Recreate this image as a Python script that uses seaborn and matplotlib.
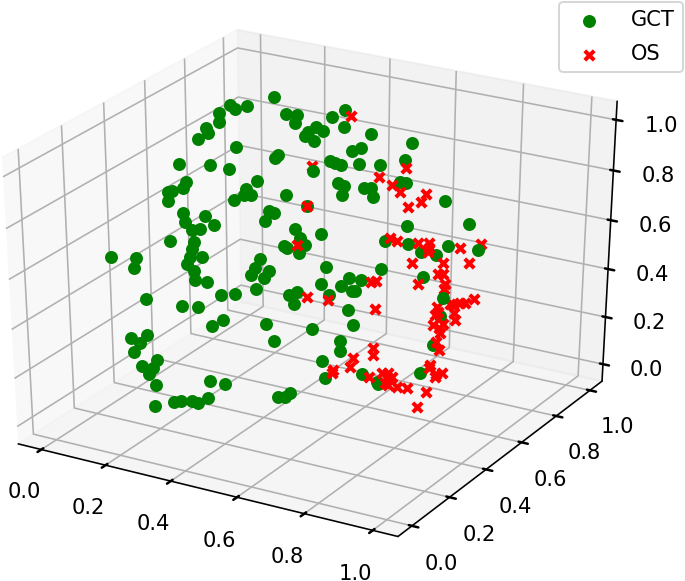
# 3D scatter of GCT and OS samples
import matplotlib
matplotlib.use("Agg")
import matplotlib.pyplot as plt
import seaborn as sns

# GCT samples
gct_x = [0.202,0.298,0.325,0.127,0.142,0.179,0.093,0.153,0.175,0.181,0.150,0.265,0.391,0.382,0.090,0.185,0.243,0.110,0.100,0.327,
         0.066,0.053,0.053,0.293,0.287,0.308,0.256,0.414,0.098,0.166,0.104,0.194,0.125,0.150,0.362,0.377,0.350,0.441,0.056,0.131,
         0.124,0.407,0.416,0.452,0.456,0.063,0.011,0.117,0.154,0.334,0.418,0.379,0.331,0.472,0.388,0.409,0.422,0.413,0.440,0.552,
         0.674,0.579,0.553,0.545,0.560,0.577,0.630,0.691,0.708,0.750,0.767,0.569,
         0.586,0.581,0.645,0.666,0.672,0.880,0.477,0.772,0.950,0.519,0.471,0.708,0.776,0.814,0.858,0.892,0.003,0.107,0.129,0.131,
         0.169,0.318,0.305,0.361,0.345,0.320,0.212,0.255,0.422,0.446,0.437,0.038,0.088,0.139,0.216,0.182,0.350,0.375,0.051,0.038,
         0.015,0.059,0.067,0.019,0.054,0.104,0.125,0.234,0.280,0.288,0.238,0.319,0.244,0.266,0.184,0.482,0.466,0.445,0.534,0.698,
         0.519,0.603,0.639,0.579,0.612,0.621,0.543,0.600,0.616,0.491,0.577,0.577,0.522,0.531,0.644,0.690,0.693,0.818,0.821,0.873,0.855]
gct_y = [0.8,0.7,0.7,0.7,0.7,0.7,0.7,0.6,0.5,0.5,
         0.5,0.5,0.5,0.5,0.5,0.5,0.5,0.5,0.5,0.5,
         0.5,0.5,0.5,0.5,0.5,0.5,0.5,0.5,0.5,0.5,
         0.5,0.5,0.5,0.5,0.5,0.5,0.5,0.5,0.5,0.5,
         0.5,0.5,0.5,0.5,0.5,0.2,0.4,0.5,0.5,0.5,
         0.8,0.8,0.7,0.7,0.7,0.7,0.6,0.6,0.6,0.7,
         0.7,0.6,0.6,0.5,0.5,0.5,0.5,0.5,0.6,0.5,
         0.5,0.5,0.5,0.5,0.5,0.5,0.5,0.5,0.5,0.5,
         0.5,0.5,0.5,0.5,0.5,0.5,0.5,0.5,0.4,0.5,
         0.5,0.5,0.5,0.5,0.5,0.5,0.5,0.5,0.5,0.5,
         0.5,0.5,0.5,0.4,0.5,0.5,0.5,0.5,0.5,0.5,
         0.3,0.4,0.4,0.3,0.4,0.4,0.4,0.3,0.3,0.4,
         0.4,0.3,0.3,0.2,0.2,0.2,0.2,0.4,0.4,0.4,
         0.5,0.5,0.5,0.5,0.5,0.5,0.5,0.5,0.5,0.5,
         0.5,0.5,0.5,0.5,0.5,0.5,0.5,0.5,0.5,0.5,
         0.5,0.5,0.5]
gct_z = [0.989,0.990,0.961,0.982,0.970,0.991,0.941,0.966,0.992,0.974,0.943,0.942,0.943,0.929,0.828,0.850,0.849,0.762,0.735,0.824,
         0.714,0.707,0.670,0.784,0.758,0.764,0.730,0.793,0.634,0.641,0.599,0.612,0.573,0.584,0.715,0.711,0.672,0.665,0.508,0.525,
         0.495,0.587,0.582,0.572,0.633,0.593,0.475,0.460,0.471,0.514,0.992,0.954,0.994,0.984,0.962,0.952,0.996,0.978,0.965,0.977,
         0.973,0.975,0.956,0.961,0.957,0.954,0.972,0.984,0.962,0.934,
         0.935,0.882,0.875,0.838,0.883,0.888,0.855,0.896,0.766,0.769,0.826,0.667,0.609,0.692,0.699,0.678,0.679,0.724,0.432,0.428,
         0.406,0.369,0.372,0.473,0.440,0.473,0.440,0.387,0.331,0.348,0.392,0.412,0.360,0.314,0.248,0.259,0.228,0.192,0.251,0.188,
         0.207,0.163,0.123,0.151,0.067,0.026,0.029,0.073,0.033,0.029,0.031,0.029,0.000,0.072,0.053,0.064,0.017,0.057,0.035,0.028,
         0.539,0.578,0.465,0.514,0.516,0.475,0.464,0.467,0.428,0.384,0.327,0.273,0.249,0.208,0.149,0.081,0.133,0.113,0.106,0.191,0.581,0.440,0.317]

# the three GCT samples that sit on top of OS marks
gct_top_x = [0.495,0.881,0.978]
gct_top_y = [0.5,0.5,0.5]
gct_top_z = [0.909,0.515,0.733]

# OS samples
os_x = [0.436,0.492,0.688,0.766,0.727,0.750,0.825,0.811,0.774,0.477,0.723,0.743,0.805,0.837,0.837,0.834,0.926,0.986,0.446,0.788,
        0.878,0.953,0.865,0.879,0.807,0.886,0.883,0.668,0.683,0.476,0.540,0.681,0.971,0.945,0.931,0.910,0.902,0.914,0.917,0.864,
        0.867,0.859,0.853,0.883,0.871,0.875,0.863,0.873,0.676,0.677,0.616,0.607,0.556,0.553,0.665,0.704,0.722,0.720,0.735,0.714,
        0.723,0.750,0.780,0.837,0.811,0.847,0.844,0.883,0.863,0.866]
os_y = [0.8,0.5,0.5,0.5,0.5,0.5,0.5,0.5,0.5,0.5,0.5,0.5,0.5,0.5,0.5,0.5,0.5,0.5,0.5,0.5,
        0.5,0.5,0.5,0.5,0.5,0.5,0.5,0.5,0.5,0.5,0.5,0.5,0.5,0.5,0.5,0.5,0.5,0.5,0.5,0.5,
        0.5,0.5,0.5,0.5,0.5,0.5,0.5,0.5,0.5,0.5,0.5,0.5,0.5,0.5,0.5,0.5,0.5,0.5,0.5,0.5,
        0.5,0.5,0.5,0.5,0.5,0.5,0.5,0.5,0.5,0.5]
os_z = [0.973,0.927,0.937,0.993,0.916,0.896,0.908,0.874,0.844,0.766,0.708,0.702,0.711,0.720,0.701,0.684,0.726,0.759,0.602,0.628,
        0.653,0.675,0.606,0.610,0.549,0.572,0.551,0.517,0.525,0.400,0.407,0.412,0.537,0.514,0.509,0.495,0.497,0.464,0.437,0.474,
        0.455,0.440,0.398,0.411,0.391,0.372,0.332,0.302,0.250,0.222,0.191,0.151,0.122,0.108,0.127,0.156,0.161,0.144,0.148,0.117,
        0.111,0.111,0.117,0.118,0.047,0.233,0.220,0.211,0.188,0.201]

tick_values = [0, 0.2, 0.4, 0.6, 0.8, 1.0]

sns.set_theme(style="white", palette=["green", "red"], rc={
    "grid.color": "#b0b0b0", "grid.linewidth": 0.8, "axes.edgecolor": "black",
    "axes.linewidth": 0.8, "text.color": "black", "xtick.color": "black", "ytick.color": "black",
    "font.family": "DejaVu Sans", "font.size": 10, "xtick.labelsize": 10.5, "ytick.labelsize": 10.5,
    "xtick.major.size": 3.5, "ytick.major.size": 3.5, "legend.fontsize": 10.5})
colors = sns.color_palette()

W, H = 685.01 / 144, 581.01 / 144
fig = plt.figure(figsize=(W, H), dpi=144)
ax = fig.add_axes([-0.59 / W, 0.0625 / H, 5.406 / W, 4.028 / H], projection="3d", computed_zorder=False)
# let the 3D box stretch with the axes instead of staying square
ax.apply_aspect = lambda position=None: None
ax.set_box_aspect((1, 1, 1), zoom=0.947)

ax.scatter(gct_x, gct_y, gct_z, color=colors[0], marker="o", s=30, linewidths=1, depthshade=False, label="GCT", zorder=2)
ax.scatter(os_x, os_y, os_z, color=colors[1], marker="x", s=22, linewidths=2, depthshade=False, label="OS", zorder=3)
ax.scatter(gct_top_x, gct_top_y, gct_top_z, color=colors[0], marker="o", s=30, linewidths=1, depthshade=False, zorder=4)

ax.set_xlim(-0.073, 1.073)
ax.set_ylim(-0.073, 1.073)
ax.set_zlim(-0.073, 1.073)
ax.set_xticks(tick_values)
ax.set_yticks(tick_values)
ax.set_zticks(tick_values)
ax.tick_params(axis="x", pad=5.5)
ax.tick_params(axis="y", pad=5.5)
ax.tick_params(axis="z", pad=5.5)

fig.legend(*ax.get_legend_handles_labels(), loc="upper right", bbox_to_anchor=(683 / 685, 1 - 2 / 581),
           bbox_transform=fig.transFigure, borderaxespad=0, handletextpad=1.0, labelspacing=0.65, frameon=True)

fig.savefig("out.png", dpi=144)
